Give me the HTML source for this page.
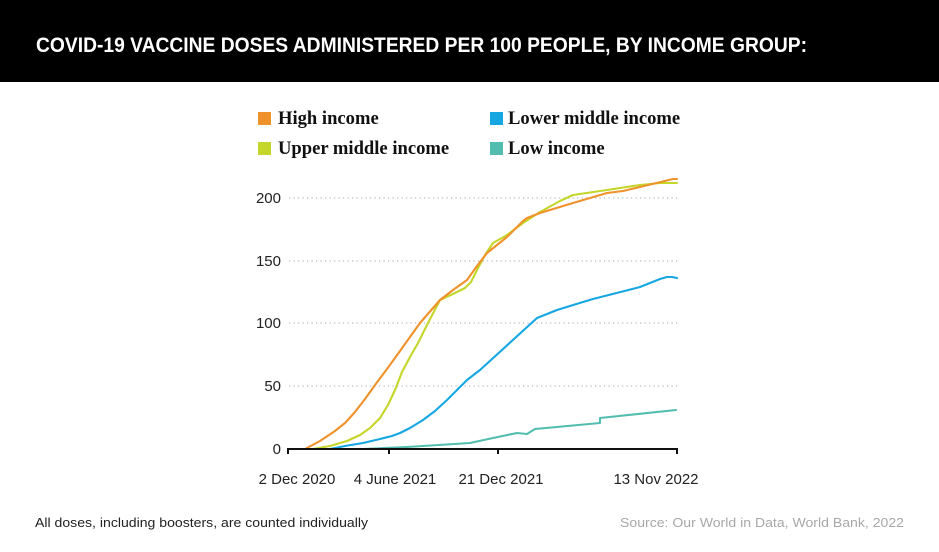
<!DOCTYPE html>
<html><head><meta charset="utf-8"><style>
html,body{margin:0;padding:0;background:#fff;}
svg{display:block;}
</style></head><body>
<svg width="939" height="552" viewBox="0 0 939 552" xmlns="http://www.w3.org/2000/svg">
<rect x="0" y="0" width="939" height="82" fill="#000"/>
<text x="36" y="52" fill="#fff" font-family="Liberation Sans, sans-serif" font-weight="bold" font-size="21" textLength="771" lengthAdjust="spacingAndGlyphs">COVID-19 VACCINE DOSES ADMINISTERED PER 100 PEOPLE, BY INCOME GROUP:</text>

<!-- legend -->
<g font-family="Liberation Serif, serif" font-weight="bold" font-size="18.6" fill="#111">
<rect x="258" y="112" width="13" height="13" fill="#f0922b"/>
<text x="278" y="124">High income</text>
<rect x="258" y="142" width="13" height="13" fill="#c3d629"/>
<text x="278" y="154">Upper middle income</text>
<rect x="490" y="112" width="13" height="13" fill="#16a7e2"/>
<text x="508" y="124">Lower middle income</text>
<rect x="490" y="142" width="13" height="13" fill="#52bdaf"/>
<text x="508" y="154">Low income</text>
</g>

<!-- gridlines -->
<g stroke="#b9b9b9" stroke-width="1.2" stroke-dasharray="1.2 3.3">
<line x1="289" y1="386" x2="678" y2="386"/>
<line x1="289" y1="323" x2="678" y2="323"/>
<line x1="289" y1="261" x2="678" y2="261"/>
<line x1="289" y1="198" x2="678" y2="198"/>
</g>

<!-- y labels -->
<g font-family="Liberation Sans, sans-serif" font-size="15" fill="#222" text-anchor="end">
<text x="281" y="454">0</text>
<text x="281" y="391">50</text>
<text x="281" y="328">100</text>
<text x="281" y="266">150</text>
<text x="281" y="203">200</text>
</g>

<!-- series -->
<g fill="none" stroke-width="2.1" stroke-linejoin="round" stroke-linecap="round">
<polyline stroke="#52bdaf" points="363,449 407,447 470,443 493,438 517,433 527,434 535,429 600,423 600,418 676,410"/>
<polyline stroke="#16a7e2" points="330,449 345,446 363,443 380,439 392,436 400,433 410,428 423,420 435,411 447,400 467,380 480,370 537,318 557,310 583,302 593,299 640,287 660,279 667,277 672,277 677,278"/>
<polyline stroke="#c3d629" points="313,449 330,446 347,441 360,435 370,428 380,418 388,405 395,390 402,372 410,357 418,343 428,323 440,300 457,292 465,288 471,282 477,270 485,255 493,243 507,235 523,223 540,212 560,201 573,195 607,190 640,185 660,183 677,183"/>
<polyline stroke="#f0922b" points="305,449 320,441 335,431 345,423 355,412 365,399 375,385 387,369 400,351 420,323 440,300 453,290 467,280 477,266 487,253 507,237 523,221 527,218 540,213 573,203 607,193 623,191 640,187 673,179 677,179"/>
</g>

<!-- x axis -->
<g stroke="#111" stroke-width="2">
<line x1="287" y1="449" x2="678" y2="449"/>
<line x1="288" y1="449" x2="288" y2="454"/>
<line x1="389" y1="449" x2="389" y2="454"/>
<line x1="498" y1="449" x2="498" y2="454"/>
<line x1="677" y1="449" x2="677" y2="454"/>
</g>
<g font-family="Liberation Sans, sans-serif" font-size="15" fill="#222" text-anchor="middle">
<text x="297" y="484">2 Dec 2020</text>
<text x="395" y="484">4 June 2021</text>
<text x="501" y="484">21 Dec 2021</text>
<text x="656" y="484">13 Nov 2022</text>
</g>

<!-- footer -->
<text x="35" y="527" font-family="Liberation Sans, sans-serif" font-size="13" fill="#222" textLength="333" lengthAdjust="spacingAndGlyphs">All doses, including boosters, are counted individually</text>
<text x="620" y="527" font-family="Liberation Sans, sans-serif" font-size="13" fill="#a8a8a8" textLength="284" lengthAdjust="spacingAndGlyphs">Source: Our World in Data, World Bank, 2022</text>
</svg>
</body></html>
